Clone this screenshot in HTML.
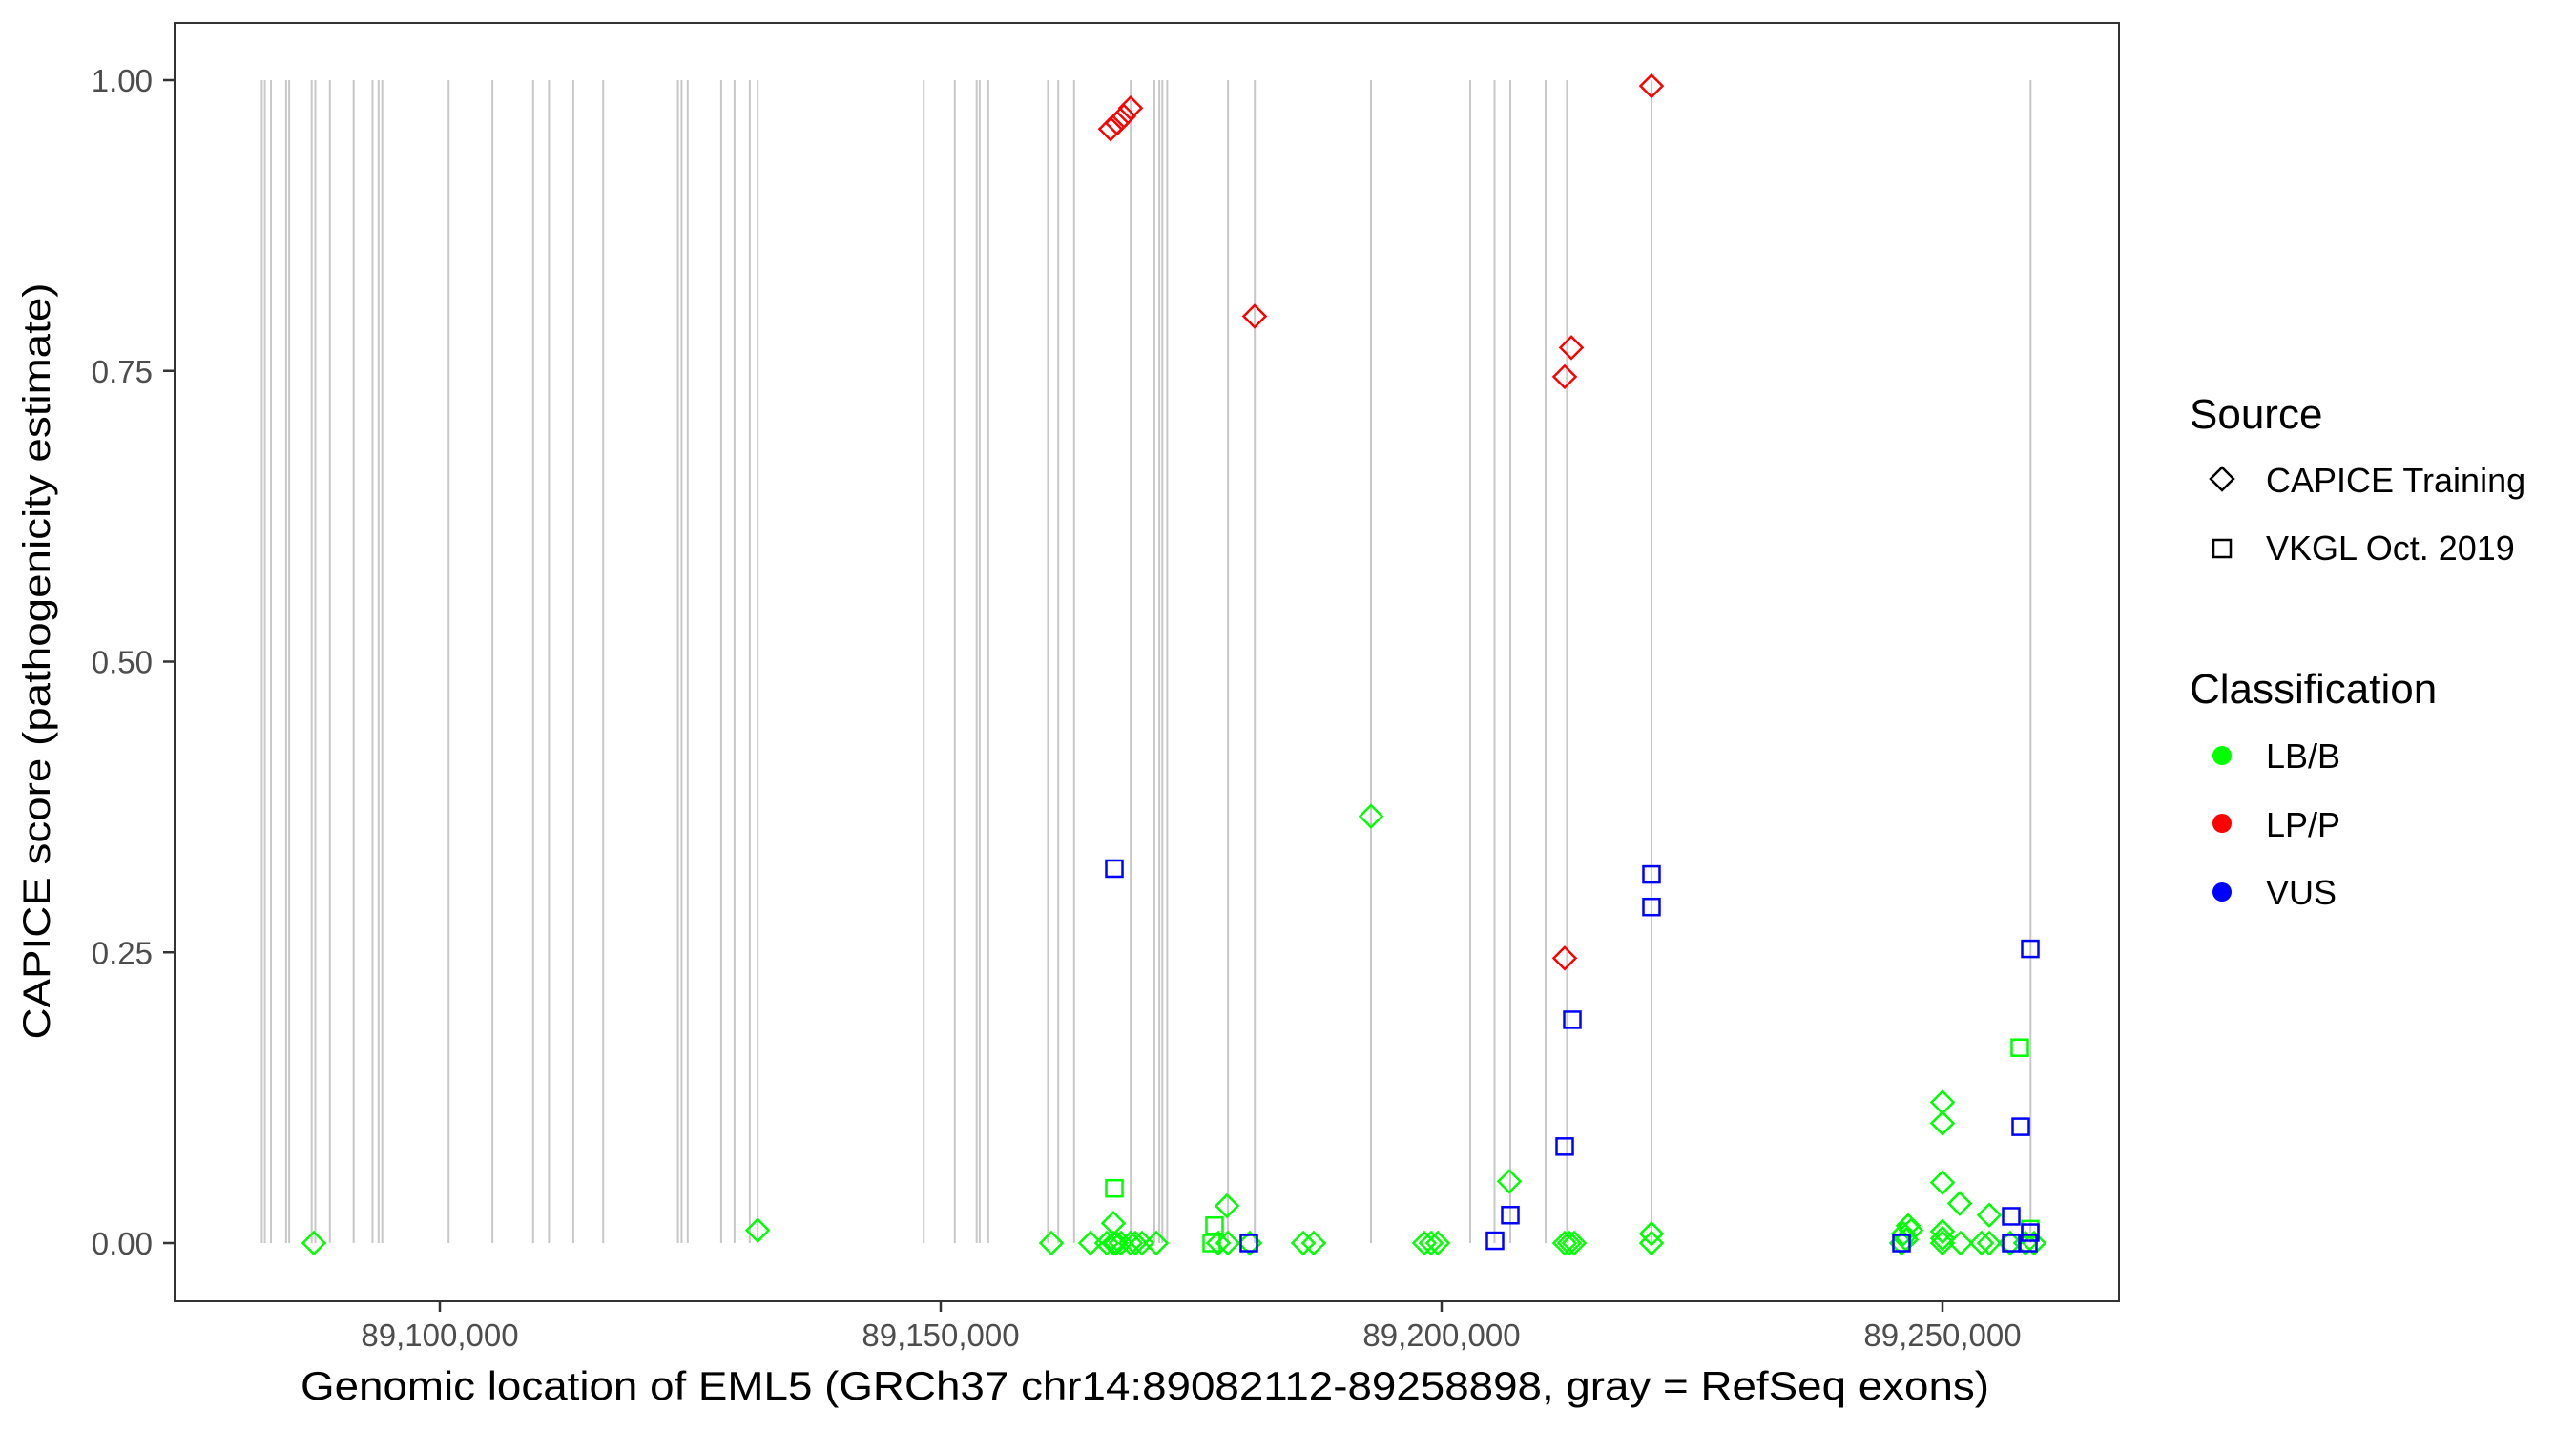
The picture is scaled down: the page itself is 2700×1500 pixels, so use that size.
<!DOCTYPE html>
<html><head><meta charset="utf-8"><style>
html,body{margin:0;padding:0;background:#fff;}
svg{display:block;font-family:"Liberation Sans",Arial,sans-serif;}
</style></head><body>
<svg id="chart" width="2700" height="1500" viewBox="0 0 2700 1500" xmlns="http://www.w3.org/2000/svg">
<rect x="0" y="0" width="2700" height="1500" fill="#fff"/>
<g id="exons"></g>
<g id="points"></g>
<rect x="183" y="24" width="2038" height="1340" fill="none" stroke="#333" stroke-width="2"/>
<g id="axes"></g>
<text x="1200" y="1467" font-size="42" text-anchor="middle" textLength="1770" lengthAdjust="spacingAndGlyphs" fill="#000">Genomic location of EML5 (GRCh37 chr14:89082112-89258898, gray = RefSeq exons)</text>
<text transform="translate(52,693) rotate(-90)" font-size="40" text-anchor="middle" textLength="793" lengthAdjust="spacingAndGlyphs" fill="#000">CAPICE score (pathogenicity estimate)</text>
<g>
<text x="2295" y="449" font-size="44" fill="#000">Source</text>
<path d="M2329 490 L2341 502 L2329 514 L2317 502 Z" fill="none" stroke="#000" stroke-width="2.5"/>
<text x="2375" y="516" font-size="36" fill="#000">CAPICE Training</text>
<rect x="2320" y="566" width="18" height="18" fill="none" stroke="#000" stroke-width="2.5"/>
<text x="2375" y="587" font-size="36" fill="#000">VKGL Oct. 2019</text>
<text x="2295" y="737" font-size="44" fill="#000">Classification</text>
<circle cx="2329" cy="792" r="10" fill="#00ff00"/>
<text x="2375" y="805" font-size="36" fill="#000">LB/B</text>
<circle cx="2329" cy="863" r="10" fill="#ff0000"/>
<text x="2375" y="877" font-size="36" fill="#000">LP/P</text>
<circle cx="2329" cy="935" r="10" fill="#0000ff"/>
<text x="2375" y="948" font-size="36" fill="#000">VUS</text>
</g>
</svg>
<script>
const exonPositions = [89082228,89082533,89083143,89084657,89084962,89087210,89087571,89089029,89091400,89093286,89093886,89094257,89100876,89105248,89109314,89110895,89113324,89116305,89123771,89124133,89124743,89128086,89129419,89130943,89131733,89148305,89151410,89153591,89153895,89154752,89160705,89161733,89163314,89168962,89171333,89171819,89172124,89172610,89178676,89181352,89192952,89202857,89205286,89206857,89210381,89212514,89220952,89258790];
const xTicks = [89100000,89150000,89200000,89250000];
const xTickLabels = ["89,100,000","89,150,000","89,200,000","89,250,000"];
const yTicks = [0,0.25,0.5,0.75,1];
const yTickLabels = ["0.00","0.25","0.50","0.75","1.00"];
const pointPos = [
89166952,89167619,89168286,89168952,89181333,89212286,89212952,89212286,89220952,
89087429,89131733,89161048,89164952,89166571,89167238,89167238,89167524,89168000,89168952,89169429,89170095,89171524,89177714,89178571,89178667,89180857,89186190,89187238,89192952,89198286,89198952,89199619,89206762,89212286,89212762,89213238,89220952,89220952,89245905,89246095,89246381,89246571,89246857,89250000,89250000,89250000,89250000,89250000,89250000,89251714,89251810,89253905,89254667,89254667,89256762,89258286,89259143,
89167333,89177333,89177048,89257714,89258762,
89167333,89180762,89205333,89206857,89212286,89213048,89220952,89220952,89245905,89256857,89256857,89257810,89258762,89258762,89258571];
const pointScore = [
0.958,0.963,0.969,0.976,0.797,0.745,0.770,0.245,0.995,
0,0.011,0,0,0,0.017,0,0,0,0,0,0,0,0,0.032,0,0,0,0,0.367,0,0,0,0.053,0,0,0,0.008,0,0,0.008,0.003,0.015,0.011,0.121,0.103,0.052,0.010,0.004,0,0.034,0,0,0.024,0,0,0,0,
0.047,0.015,0,0.168,0.012,
0.322,0,0.002,0.024,0.083,0.192,0.317,0.289,0,0.023,0,0.100,0.253,0.009,0];
const pointSource = [
"C","C","C","C","C","C","C","C","C",
"C","C","C","C","C","C","C","C","C","C","C","C","C","C","C","C","C","C","C","C","C","C","C","C","C","C","C","C","C","C","C","C","C","C","C","C","C","C","C","C","C","C","C","C","C","C","C","C",
"V","V","V","V","V",
"V","V","V","V","V","V","V","V","V","V","V","V","V","V","V"];
const pointClass = [
"LP/P","LP/P","LP/P","LP/P","LP/P","LP/P","LP/P","LP/P","LP/P",
"LB/B","LB/B","LB/B","LB/B","LB/B","LB/B","LB/B","LB/B","LB/B","LB/B","LB/B","LB/B","LB/B","LB/B","LB/B","LB/B","LB/B","LB/B","LB/B","LB/B","LB/B","LB/B","LB/B","LB/B","LB/B","LB/B","LB/B","LB/B","LB/B","LB/B","LB/B","LB/B","LB/B","LB/B","LB/B","LB/B","LB/B","LB/B","LB/B","LB/B","LB/B","LB/B","LB/B","LB/B","LB/B","LB/B","LB/B","LB/B",
"LB/B","LB/B","LB/B","LB/B","LB/B",
"VUS","VUS","VUS","VUS","VUS","VUS","VUS","VUS","VUS","VUS","VUS","VUS","VUS","VUS","VUS"];

const NS = "http://www.w3.org/2000/svg";
function xs(g){ return 461 + (g - 89100000) * 0.0105; }
function ys(v){ return 1303 - v * 1219; }
const colors = {"LB/B":"#00ff00","LP/P":"#ff0000","VUS":"#0000ff"};

const ex = document.getElementById('exons');
exonPositions.forEach(g => {
  const l = document.createElementNS(NS,'line');
  
  
  l.setAttribute('x1', xs(g)); l.setAttribute('x2', xs(g));
  l.setAttribute('y1', ys(1)); l.setAttribute('y2', ys(0));
  l.setAttribute('stroke', '#c8c8c8'); l.setAttribute('stroke-width', '2');
  ex.appendChild(l);
});

const pg = document.getElementById('points');
pointPos.forEach((g, i) => {
  const cx = xs(g), cy = ys(pointScore[i]), c = colors[pointClass[i]];
  let el;
  if (pointSource[i] === "C") {
    el = document.createElementNS(NS,'path');
    el.setAttribute('d', `M${cx} ${cy-11.5} L${cx+11.5} ${cy} L${cx} ${cy+11.5} L${cx-11.5} ${cy} Z`);
  } else {
    el = document.createElementNS(NS,'rect');
    el.setAttribute('x', cx-8.5); el.setAttribute('y', cy-8.5);
    el.setAttribute('width', 17); el.setAttribute('height', 17);
  }
  
  
  el.setAttribute('fill', 'none'); el.setAttribute('stroke', c); el.setAttribute('stroke-width', '2.5');
  pg.appendChild(el);
});

const ax = document.getElementById('axes');
xTicks.forEach((g, i) => {
  const t = document.createElementNS(NS,'line');
  
  
  t.setAttribute('x1', xs(g)); t.setAttribute('x2', xs(g));
  t.setAttribute('y1', 1364); t.setAttribute('y2', 1375);
  t.setAttribute('stroke', '#333'); t.setAttribute('stroke-width', '2.5');
  ax.appendChild(t);
  const tx = document.createElementNS(NS,'text');
  
  
  tx.setAttribute('x', xs(g)); tx.setAttribute('y', 1411);
  tx.setAttribute('text-anchor', 'middle'); tx.setAttribute('font-size', '33');
  tx.setAttribute('fill', '#4d4d4d');
  tx.textContent = xTickLabels[i];
  ax.appendChild(tx);
});
yTicks.forEach((v, i) => {
  const t = document.createElementNS(NS,'line');
  
  
  t.setAttribute('x1', 171); t.setAttribute('x2', 183);
  t.setAttribute('y1', ys(v)); t.setAttribute('y2', ys(v));
  t.setAttribute('stroke', '#333'); t.setAttribute('stroke-width', '2.5');
  ax.appendChild(t);
  const tx = document.createElementNS(NS,'text');
  
  
  tx.setAttribute('x', 160); tx.setAttribute('y', ys(v) + 12);
  tx.setAttribute('text-anchor', 'end'); tx.setAttribute('font-size', '33');
  tx.setAttribute('fill', '#4d4d4d');
  tx.textContent = yTickLabels[i];
  ax.appendChild(tx);
});
</script>
</body></html>
